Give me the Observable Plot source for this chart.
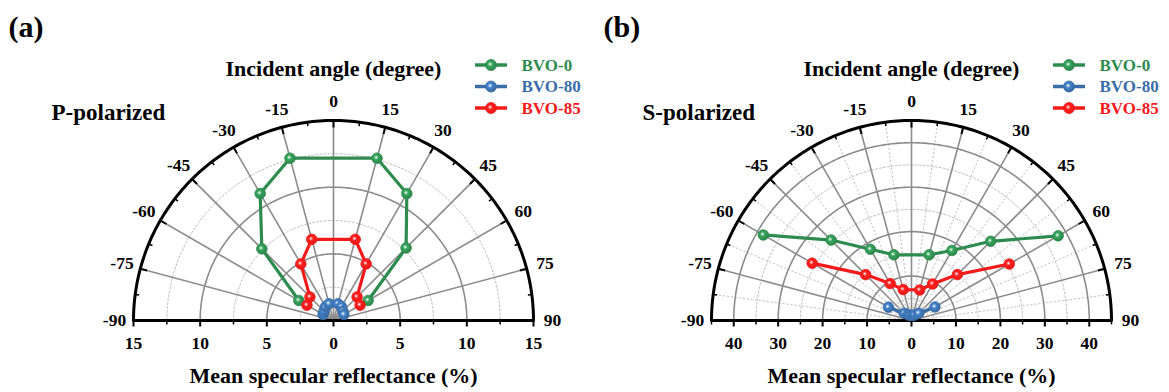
<!DOCTYPE html>
<html><head><meta charset="utf-8">
<script src="https://cdn.jsdelivr.net/npm/d3@7"></script>
<script src="https://cdn.jsdelivr.net/npm/@observablehq/plot@0.6"></script>
<style>
body{margin:0;background:#fff;}
#wrap{position:relative;width:1169px;height:392px;overflow:hidden;}
#wrap svg{position:absolute;top:0;}
</style></head><body>
<svg width="0" height="0" style="position:absolute"><defs id="defs"></defs></svg>
<div id="wrap"></div>
<script>
// ---------- data ----------
const angleTicks = [-90,-75,-60,-45,-30,-15,0,15,30,45,60,75,90];
const incidentAngles = [-60,-45,-30,-15,15,30,45,60];
const seriesNames = ["BVO-0","BVO-80","BVO-85"];
const seriesColors = ["#2e8b4f","#3a6ea8","#f51a1a"];
const pBVO0  = [3.0, 7.6, 11.0, 12.6, 12.6, 11.0, 7.7, 3.0];
const pBVO80 = [0.9, 1.0, 1.2, 1.3, 1.3, 1.2, 1.0, 0.9];
const pBVO85 = [2.3, 2.5, 4.9, 6.3, 6.3, 4.9, 2.5, 2.3];
const sBVO0  = [38.5, 25.6, 18.5, 15.3, 15.3, 18.2, 25.2, 38.1];
const sBVO80 = [6.0, 2.3, 1.5, 1.2, 1.2, 1.5, 2.3, 6.1];
const sBVO85 = [25.8, 14.6, 9.6, 7.2, 7.1, 9.5, 14.6, 25.4];
const pRadiusTicks = [-15,-10,-5,0,5,10,15];
const sRadiusTicks = [-40,-30,-20,-10,0,10,20,30,40];

// ---------- gradients for sphere-like markers ----------
const defs = d3.select("#defs");
seriesColors.forEach((c,i)=>{
  const g = defs.append("radialGradient").attr("id","grad"+i).attr("cx","0.42").attr("cy","0.42").attr("r","0.6");
  g.append("stop").attr("offset","0").attr("stop-color","#ffffff");
  g.append("stop").attr("offset","0.35").attr("stop-color", d3.color(c).brighter(0.5).formatHex());
  g.append("stop").attr("offset","1").attr("stop-color", d3.color(c).darker(0.2).formatHex());
});

const FONT = "Liberation Serif, Times New Roman, serif";

function panel(cfg){
  const R = cfg.rMax, k = R/200;
  const rad = a => a*Math.PI/180;
  const px = (r,a)=> r*Math.sin(rad(a)), py = (r,a)=> r*Math.cos(rad(a));
  const arcAngles = d3.range(-90, 90.001, 1);
  const solidR = d3.range(cfg.major, R - 1e-9, cfg.major);
  const dottedR = d3.range(cfg.minor, R, cfg.major);
  const arcPts = rs => rs.flatMap(r => arcAngles.map(a => ({r, a})));
  const spokes = d3.range(-75, 75.001, 15);
  const minorSpokes = d3.range(-82.5, 82.51, 15);
  const minorTickAngles = d3.range(-82.5, 82.51, 15);
  const axisMinor = d3.range(-R, R+1e-9, cfg.minor).filter(v => !cfg.ticks.includes(v));
  const L = 219*k;

  const rows = [];
  cfg.series.forEach((vals, si) => vals.forEach((r, j) => rows.push({series: seriesNames[si], si, angle: incidentAngles[j], r})));

  const marks = [
    Plot.line(arcPts(dottedR), {x: d=>px(d.r,d.a), y: d=>py(d.r,d.a), z: "r", stroke:"#bdbdbd", strokeWidth:1, strokeDasharray:"2,2"}),
    cfg.dottedSpokes ? Plot.link(minorSpokes, {x1:0, y1:0, x2:a=>px(R,a), y2:a=>py(R,a), stroke:"#bdbdbd", strokeWidth:1, strokeDasharray:"2,2"}) : null,
    Plot.line(arcPts(solidR), {x: d=>px(d.r,d.a), y: d=>py(d.r,d.a), z: "r", stroke:"#8c8c8c", strokeWidth:1.6}),
    Plot.link(spokes, {x1:0, y1:0, x2:a=>px(R,a), y2:a=>py(R,a), stroke:"#8c8c8c", strokeWidth:1.6}),
    Plot.line(arcAngles, {x:a=>px(R,a), y:a=>py(R,a), stroke:"#000", strokeWidth:3}),
    Plot.link(angleTicks, {x1:a=>px(R,a), y1:a=>py(R,a), x2:a=>px(R-7*k,a), y2:a=>py(R-7*k,a), stroke:"#000", strokeWidth:2}),
    Plot.link(minorTickAngles, {x1:a=>px(R,a), y1:a=>py(R,a), x2:a=>px(R-4*k,a), y2:a=>py(R-4*k,a), stroke:"#000", strokeWidth:1.5}),
    Plot.ruleY([0], {x1:-R, x2:R, stroke:"#000", strokeWidth:3}),
    Plot.link(cfg.ticks, {x1:d=>d, x2:d=>d, y1:0, y2:-6*k, stroke:"#000", strokeWidth:2}),
    Plot.link(axisMinor, {x1:d=>d, x2:d=>d, y1:0, y2:-4*k, stroke:"#000", strokeWidth:1.5}),
    Plot.text(angleTicks, {x:a=>px(L,a), y:a=>py(L,a), text:a=>String(a), fontSize:17.5, fontWeight:"bold", fill:"#000"}),
    Plot.text(cfg.ticks, {x:d=>d, y:0, dy:23, text:d=>String(Math.abs(d)), fontSize:17.5, fontWeight:"bold", fill:"#000"})
  ];
  [0,2,1].forEach(si => {
    const data = rows.filter(d => d.si === si);
    marks.push(Plot.line(data, {x:d=>px(d.r,d.angle), y:d=>py(d.r,d.angle), stroke: seriesColors[si], strokeWidth:3.2}));
    marks.push(Plot.dot(data, {x:d=>px(d.r,d.angle), y:d=>py(d.r,d.angle), r:5.3, fill:`url(#grad${si})`, stroke: seriesColors[si], strokeWidth:0.8}));
  });
  const T = (txt, dx, dy, anchor, size, fill="#000") =>
    Plot.text([txt], {frameAnchor:"top-left", dx, dy, textAnchor:anchor, lineAnchor:"middle", fontSize:size, fontWeight:"bold", fill});
  marks.push(
    T(cfg.label, cfg.labelX, 27, "start", 30),
    T("Incident angle (degree)", 333, 68, "middle", 22),
    T(cfg.pol, cfg.polX, 112, "start", 23),
    T("Mean specular reflectance (%)", 333, 375, "middle", 22)
  );
  seriesNames.forEach((n,i)=> marks.push(T(n, 521, 65+21.5*i, "start", 17, seriesColors[i])));

  const svg = Plot.plot({
    width: cfg.width, height: 392, margin: 0,
    x: {domain:[-R,R], range:[133,533], axis:null},
    y: {domain:[0,R], range:[320,120], axis:null},
    style: {fontFamily: FONT, background:"transparent", overflow:"visible"},
    marks
  });
  svg.style.left = cfg.left + "px";
  // legend swatches
  const s = d3.select(svg);
  seriesNames.forEach((n,i)=>{
    const y = 65 + 21.5*i;
    s.append("line").attr("x1",475).attr("x2",507).attr("y1",y).attr("y2",y).attr("stroke",seriesColors[i]).attr("stroke-width",3.5);
    s.append("circle").attr("cx",491).attr("cy",y).attr("r",5.5).attr("fill",`url(#grad${i})`).attr("stroke",seriesColors[i]).attr("stroke-width",0.8);
  });
  document.getElementById("wrap").appendChild(svg);
}

panel({rMax:15, major:5, minor:2.5, ticks:pRadiusTicks, series:[pBVO0,pBVO80,pBVO85], label:"(a)", labelX:8, pol:"P-polarized", polX:51, dottedSpokes:false, left:0, width:578});
panel({rMax:45, major:10, minor:5, ticks:sRadiusTicks, series:[sBVO0,sBVO80,sBVO85], label:"(b)", labelX:25, pol:"S-polarized", polX:64, dottedSpokes:true, left:578, width:591});
</script>
</body></html>
